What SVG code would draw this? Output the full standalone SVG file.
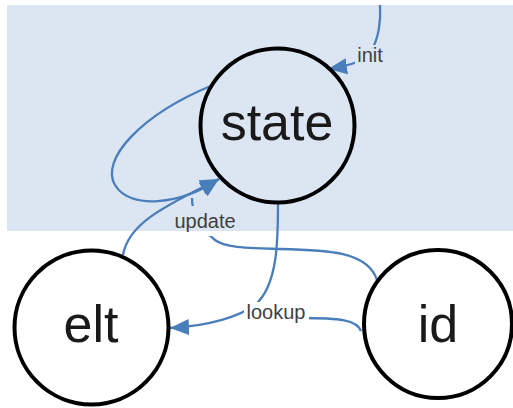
<svg xmlns="http://www.w3.org/2000/svg" width="513" height="408" viewBox="0 0 513 408">
<style>
.node{stroke:#000;stroke-width:4}
.nlabel{font-family:"Liberation Sans",Arial,sans-serif;font-size:52px;fill:#1a1a1a;text-anchor:middle}
.edge{fill:none;stroke:#4a7ebb;stroke-width:2.3}
.elabel{font-family:"Liberation Sans",Arial,sans-serif;font-size:20px;fill:#404040;text-anchor:middle}
</style>
<defs>
<marker id="arr" markerUnits="userSpaceOnUse" markerWidth="20" markerHeight="18" refX="19" refY="9" orient="auto" viewBox="0 0 20 18">
<path d="M0,1 L19,9 L0,17 z" fill="#4a7ebb"/>
</marker>
</defs>
<rect x="0" y="0" width="513" height="408" fill="#fff"/>
<rect x="7" y="5" width="506" height="226" fill="#dce6f2"/>
<g id="connectors">
<path class="edge" d="M380 5 C381 20 379 40 370 52 C364 60 355 65 328 69" marker-end="url(#arr)"/>
<path class="edge" d="M213 85 C140 115 100 160 115 185 C130 210 180 205 219 179" marker-end="url(#arr)"/>
<path class="edge" d="M123 255 C128 225 160 208 219 179" marker-end="url(#arr)"/>
<path class="edge" d="M377 280 C368 252 330 250 280 249 C250 248 225 248 215 240 C200 228 192 215 192 198"/>
<path class="edge" d="M278 202 C278 240 278 285 255 305 C240 316 210 326 170 328" marker-end="url(#arr)"/>
<path class="edge" d="M361 331 C357 320 340 318 300 318 L250 317"/>
</g>
<g id="labels">
<rect x="355" y="45" width="31" height="21" fill="#dce6f2"/>
<text class="elabel" x="370" y="62">init</text>
<rect x="171" y="206" width="70" height="25" fill="#dce6f2"/>
<rect x="171" y="231" width="70" height="5" fill="#fff"/>
<text class="elabel" x="205" y="228">update</text>
<rect x="244" y="302" width="65" height="24" fill="#fff"/>
<text class="elabel" x="276" y="319">lookup</text>
</g>
<g id="state">
<circle class="node" cx="277.5" cy="125.5" r="77" fill="none"/>
<text class="nlabel" x="277" y="140">state</text>
</g>
<g id="elt">
<circle class="node" cx="91.5" cy="327.5" r="77" fill="#fff"/>
<text class="nlabel" x="91" y="342">elt</text>
</g>
<g id="id">
<circle class="node" cx="438" cy="324" r="74" fill="#fff"/>
<text class="nlabel" x="438" y="342">id</text>
</g>
</svg>
